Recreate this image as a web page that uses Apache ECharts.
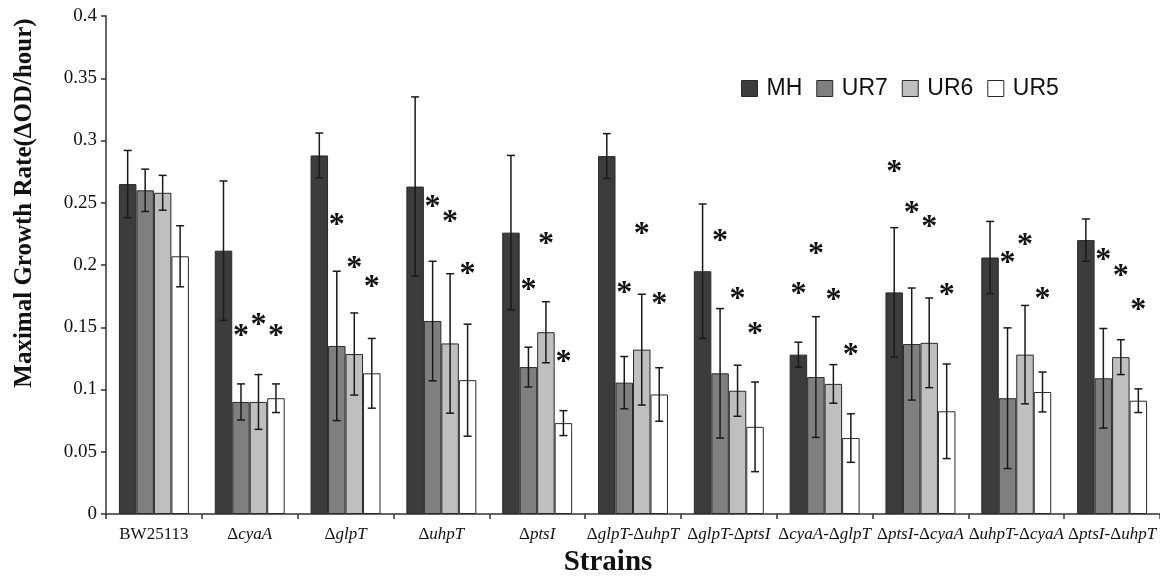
<!DOCTYPE html>
<html>
<head>
<meta charset="utf-8">
<script src="https://cdn.jsdelivr.net/npm/echarts@6/dist/echarts.min.js"></script>
<style>
  html, body { margin: 0; padding: 0; background: #fff; }
  #chart { width: 1160px; height: 582px; }
</style>
</head>
<body>
<div id="chart"></div>
<script>
// strains on the x axis
const strains = ['BW25113', 'ΔcyaA', 'ΔglpT', 'ΔuhpT', 'ΔptsI', 'ΔglpT-ΔuhpT',
  'ΔglpT-ΔptsI', 'ΔcyaA-ΔglpT', 'ΔptsI-ΔcyaA', 'ΔuhpT-ΔcyaA', 'ΔptsI-ΔuhpT'];
const media = ['MH', 'UR7', 'UR6', 'UR5'];

// mean growth rates
const mhRate  = [0.265, 0.2115, 0.288, 0.263, 0.226, 0.2875, 0.195, 0.128, 0.178, 0.206, 0.220];
const ur7Rate = [0.260, 0.090, 0.135, 0.155, 0.118, 0.1055, 0.113, 0.110, 0.1365, 0.093, 0.109];
const ur6Rate = [0.258, 0.090, 0.1285, 0.137, 0.146, 0.132, 0.099, 0.1045, 0.1375, 0.128, 0.126];
const ur5Rate = [0.207, 0.093, 0.113, 0.1075, 0.073, 0.096, 0.070, 0.061, 0.0825, 0.098, 0.091];

// error bar half-widths
const mhErr  = [0.027, 0.056, 0.018, 0.072, 0.062, 0.018, 0.054, 0.010, 0.052, 0.029, 0.017];
const ur7Err = [0.017, 0.0145, 0.060, 0.048, 0.016, 0.021, 0.052, 0.0485, 0.045, 0.0565, 0.040];
const ur6Err = [0.014, 0.022, 0.033, 0.056, 0.0245, 0.0445, 0.0205, 0.0155, 0.036, 0.0395, 0.014];
const ur5Err = [0.0245, 0.0115, 0.028, 0.045, 0.010, 0.0215, 0.036, 0.0195, 0.038, 0.016, 0.0095];

// height of the significance stars (null = no star)
const mhStar  = [null, null, null, null, null, null, null, 0.1834, 0.2817, null, null];
const ur7Star = [null, 0.1494, 0.2386, 0.253, 0.1866, 0.1839, 0.226, 0.2155, 0.2488, 0.2086, 0.2107];
const ur6Star = [null, 0.1582, 0.204, 0.2412, 0.2233, 0.2316, 0.1794, 0.1783, 0.2372, 0.2227, 0.1978];
const ur5Star = [null, 0.1494, 0.1888, 0.1994, 0.1285, 0.1753, 0.1512, 0.1344, 0.1826, 0.1791, 0.1705];

const yTicks = [0, 0.05, 0.1, 0.15, 0.2, 0.25, 0.3, 0.35, 0.4];

const rates = [mhRate, ur7Rate, ur6Rate, ur5Rate];
const errs = [mhErr, ur7Err, ur6Err, ur5Err];
const stars = [mhStar, ur7Star, ur6Star, ur5Star];
const colors = ['#3c3c3c', '#7f7f7f', '#bfbfbf', '#ffffff'];
const catGap = 0.27;
const serif = 'Liberation Serif';

// x offset of bar s inside its category group
function barX(api, cat, val, s) {
  const c = api.coord([cat, val]);
  const band = api.size([1, 0])[0];
  const w = band * (1 - catGap) / 4;
  return [c[0] + (s - 1.5) * w, c[1]];
}

const errData = [];
const starData = [];
rates.forEach((r, s) => {
  r.forEach((v, i) => {
    errData.push([i, v, errs[s][i], s]);
    if (stars[s][i] != null) starData.push([i, stars[s][i], s]);
  });
});

// italic gene names, upright delta
function strainLabel(v) {
  if (v.indexOf('Δ') < 0) return '{n|' + v + '}';
  return v.split('Δ').map((p, k) => (k === 0 ? '' : '{n|Δ}') + (p ? '{i|' + p + '}' : '')).join('');
}

const barSeries = media.map((m, s) => ({
  name: m,
  type: 'bar',
  data: rates[s],
  barGap: '0%',
  barCategoryGap: (catGap * 100) + '%',
  itemStyle: { color: colors[s], borderColor: '#2a2a2a', borderWidth: 1 },
  emphasis: { disabled: true }
}));

const option = {
  backgroundColor: '#ffffff',
  animation: false,
  grid: { left: 106, right: -3, top: 16, bottom: 68 },
  legend: {
    data: media,
    left: 736,
    top: 72,
    icon: 'rect',
    itemWidth: 16,
    itemHeight: 16,
    itemGap: 14,
    itemStyle: { borderColor: '#2a2a2a', borderWidth: 1 },
    textStyle: { fontFamily: 'Liberation Sans', fontSize: 23, color: '#111', padding: [0, 0, 0, 4] }
  },
  xAxis: {
    type: 'category',
    data: strains,
    axisLine: { lineStyle: { color: '#333', width: 1.5 } },
    axisTick: { show: true, length: 5, lineStyle: { color: '#333', width: 1.5 } },
    axisLabel: {
      margin: 12,
      interval: 0,
      formatter: strainLabel,
      rich: {
        n: { fontFamily: serif, fontSize: 17, color: '#111' },
        i: { fontFamily: serif, fontSize: 17, fontStyle: 'italic', color: '#111' }
      }
    }
  },
  yAxis: {
    type: 'value',
    min: 0,
    max: 0.4,
    interval: 0.05,
    splitLine: { show: false },
    axisLine: { show: true, lineStyle: { color: '#333', width: 1.5 } },
    axisTick: { show: true, length: 5, lineStyle: { color: '#333', width: 1.5 } },
    axisLabel: {
      margin: 9,
      fontFamily: serif,
      fontSize: 19,
      color: '#111',
      formatter: v => {
        const t = yTicks.find(x => Math.abs(x - v) < 1e-9);
        return t === undefined ? '' : String(t);
      }
    }
  },
  graphic: [
    {
      type: 'text',
      x: 25, y: 203,
      rotation: Math.PI / 2,
      style: {
        text: 'Maximal Growth Rate(ΔOD/hour)',
        font: 'bold 25px "Liberation Serif"',
        fill: '#111',
        align: 'center',
        verticalAlign: 'middle'
      }
    },
    {
      type: 'text',
      x: 608, y: 563,
      style: {
        text: 'Strains',
        font: 'bold 29px "Liberation Serif"',
        fill: '#111',
        align: 'center',
        verticalAlign: 'middle'
      }
    }
  ],
  series: barSeries.concat([
    {
      type: 'custom',
      name: 'err',
      data: errData,
      z: 5,
      silent: true,
      renderItem: (params, api) => {
        const cat = api.value(0), v = api.value(1), e = api.value(2), s = api.value(3);
        const top = barX(api, cat, v + e, s);
        const bot = barX(api, cat, v - e, s);
        const cap = 4;
        const st = { stroke: '#1a1a1a', lineWidth: 1.5 };
        return {
          type: 'group',
          children: [
            { type: 'line', shape: { x1: top[0], y1: top[1], x2: bot[0], y2: bot[1] }, style: st },
            { type: 'line', shape: { x1: top[0] - cap, y1: top[1], x2: top[0] + cap, y2: top[1] }, style: st },
            { type: 'line', shape: { x1: bot[0] - cap, y1: bot[1], x2: bot[0] + cap, y2: bot[1] }, style: st }
          ]
        };
      }
    },
    {
      type: 'custom',
      name: 'stars',
      data: starData,
      z: 5,
      silent: true,
      renderItem: (params, api) => {
        const p = barX(api, api.value(0), api.value(1), api.value(2));
        return {
          type: 'text',
          x: p[0], y: p[1] + 9,
          style: {
            text: '*',
            font: 'bold 32px "Liberation Serif"',
            fill: '#111',
            align: 'center',
            verticalAlign: 'middle'
          }
        };
      }
    }
  ])
};

const chart = echarts.init(document.getElementById('chart'));
chart.setOption(option);
</script>
</body>
</html>
